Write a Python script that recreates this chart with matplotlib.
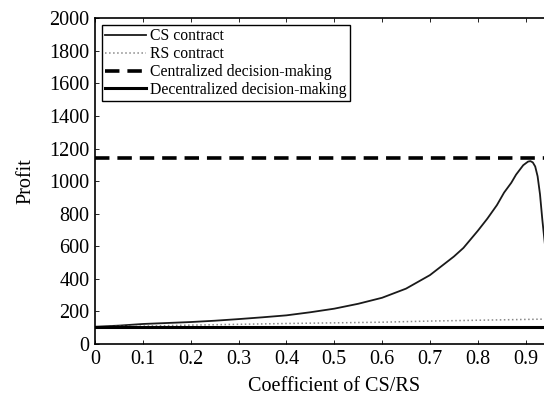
import matplotlib
matplotlib.use("Agg")
import matplotlib.pyplot as plt
import numpy as np

# ---------------------------------------------------------------------------
# Data
# ---------------------------------------------------------------------------
cs_x = [0.0, 0.05, 0.1, 0.15, 0.2, 0.25, 0.3, 0.35, 0.4, 0.45, 0.5, 0.55,
        0.6, 0.65, 0.7, 0.75, 0.77, 0.8, 0.82, 0.84, 0.855, 0.87, 0.88,
        0.895, 0.905, 0.91, 0.915, 0.92, 0.925, 0.93, 0.935, 0.94, 0.95]
cs_profit = [106, 113, 123, 129, 135, 143, 153, 164, 176, 195, 217, 247,
             284, 340, 423, 537, 590, 695, 770, 853, 930, 990, 1040,
             1098, 1120, 1123, 1115, 1090, 1030, 920, 760, 620, 400]

rs_x = [0.0, 0.1, 0.2, 0.3, 0.4, 0.5, 0.6, 0.7, 0.8, 0.9, 1.0]
rs_profit = [105, 110, 116, 121, 126, 130, 134, 141, 146, 151, 156]

centralized_profit = 1143
decentralized_profit = 103

# only the ticks that are visible in the cropped original
x_ticks = [0, 0.1, 0.2, 0.3, 0.4, 0.5, 0.6, 0.7, 0.8, 0.9]
x_tick_labels = ["0", "0.1", "0.2", "0.3", "0.4", "0.5", "0.6", "0.7", "0.8", "0.9"]
y_ticks = np.arange(0, 2001, 200)

# ---------------------------------------------------------------------------
# Plot
# ---------------------------------------------------------------------------
plt.rcParams["font.family"] = ["Liberation Serif", "DejaVu Serif"]

fig = plt.figure(figsize=(5.44, 4.01), dpi=100)
# axes run past the right edge of the figure, as in the cropped original
ax = fig.add_axes([0.1746, 0.1421, 0.8796, 0.8123])

ax.plot(cs_x, cs_profit, "-", color="#1a1a1a", linewidth=1.3, label="CS contract")
ax.plot(rs_x, rs_profit, ":", color="#888888", linewidth=1.1, label="RS contract")
ax.axhline(centralized_profit, color="black", linestyle=(0, (4, 2.2)),
           linewidth=2.6, label="Centralized decision-making")
ax.axhline(decentralized_profit, color="black", linestyle="-",
           linewidth=2.2, label="Decentralized decision-making")

ax.set_xlim(0, 1)
ax.set_ylim(0, 2000)
ax.set_xticks(x_ticks)
ax.set_xticklabels(x_tick_labels)
ax.set_yticks(y_ticks)
ax.tick_params(direction="in", length=3, width=0.6, top=True, right=True,
               labelsize=14.5, pad=4)
for s in ax.spines.values():
    s.set_linewidth(1.2)

ax.set_xlabel("Coefficient of CS/RS", fontsize=14.5, labelpad=6)
ax.set_ylabel("Profit", fontsize=14.5, labelpad=10)

leg = ax.legend(loc="upper left", bbox_to_anchor=(0.014, 0.979),
                fontsize=11.3, frameon=True, fancybox=False, framealpha=1,
                edgecolor="black", borderpad=0.2, labelspacing=0.12,
                handlelength=2.6, handletextpad=0.3, borderaxespad=0)
leg.get_frame().set_linewidth(1.0)

fig.savefig("out.png", dpi=100)
